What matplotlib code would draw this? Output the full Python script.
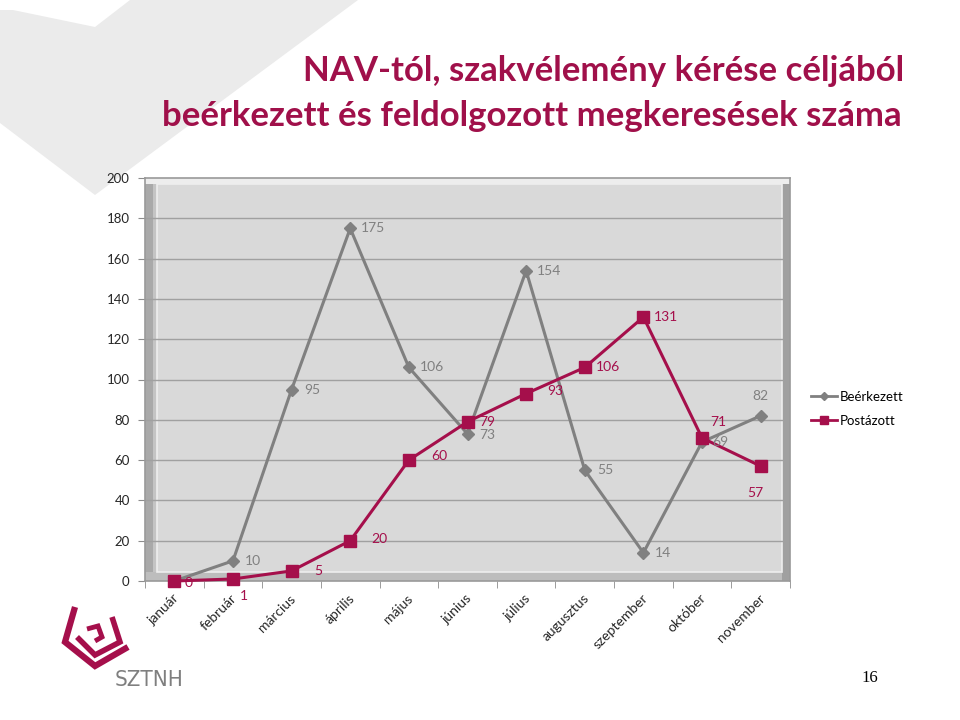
import matplotlib
matplotlib.use("Agg")
import matplotlib.pyplot as plt
from matplotlib.patches import Polygon, Rectangle
from matplotlib.lines import Line2D
import matplotlib.transforms as mtransforms

months = ["január", "február", "március", "április", "május", "június",
          "július", "augusztus", "szeptember", "október", "november"]
beerkezett = [0, 10, 95, 175, 106, 73, 154, 55, 14, 69, 82]
postazott = [0, 1, 5, 20, 60, 79, 93, 106, 131, 71, 57]
yticks = list(range(0, 201, 20))

title1 = "NAV-tól, szakvélemény kérése céljából"
title2 = "beérkezett és feldolgozott megkeresések száma"

GREY = "#808080"
RED = "#A50F4B"
TITLE_C = "#A0104A"
FONT = ["Lato", "DejaVu Sans"]

W, H = 960, 720
fig = plt.figure(figsize=(9.6, 7.2), dpi=100)
fig.patch.set_facecolor("white")

def fx(px):
    return px / W

def fy(py):
    return 1 - py / H

# background decoration (light grey chevron at top-left)
deco = [(0, 10), (13, 10), (95, 27), (130, 0), (358, 0), (95, 195), (0, 123)]
fig.patches.append(Polygon([(fx(x), fy(y)) for x, y in deco], closed=True,
                           transform=fig.transFigure, facecolor="#ebebeb",
                           edgecolor="none", zorder=-5))

# titles
fig.text(fx(904), fy(81), title1, ha="right", va="baseline", fontsize=25,
         fontweight="bold", color=TITLE_C, family=FONT)
fig.text(fx(902), fy(126), title2, ha="right", va="baseline", fontsize=25,
         fontweight="bold", color=TITLE_C, family=FONT)

# axes
ax = fig.add_axes([fx(145), fy(581), fx(790) - fx(145), (581 - 178) / H])
ax.set_facecolor("#d9d9d9")
x = list(range(len(months)))
ax.set_xlim(-0.5, len(months) - 0.5)
ax.set_ylim(0, 200)

# 3D-ish walls
ax.add_patch(Rectangle((0, 0), 0.012, 1, transform=ax.transAxes,
                       facecolor="#a9a9a9", edgecolor="none", zorder=0.5))
ax.add_patch(Rectangle((0.012, 0), 0.006, 1, transform=ax.transAxes,
                       facecolor="#c4c4c4", edgecolor="none", zorder=0.5))
ax.add_patch(Rectangle((0, 0), 1, 0.022, transform=ax.transAxes,
                       facecolor="#bdbdbd", edgecolor="none", zorder=0.5))
ax.add_patch(Rectangle((0.988, 0), 0.012, 1, transform=ax.transAxes,
                       facecolor="#a0a0a0", edgecolor="none", zorder=0.5))
ax.add_patch(Rectangle((0.018, 0.022), 0.97, 0.962, transform=ax.transAxes,
                       facecolor="none", edgecolor="#eeeeee", lw=1.2, zorder=0.6))
ax.add_patch(Rectangle((0, 0.985), 1, 0.015, transform=ax.transAxes,
                       facecolor="#ededed", edgecolor="none", zorder=0.5))

for yv in yticks[1:-1]:
    ax.axhline(yv, color="#a0a0a0", lw=1, zorder=1)

for s in ax.spines.values():
    s.set_color("#9a9a9a")
    s.set_linewidth(1.2)

ax.set_yticks(yticks)
ax.set_yticklabels([str(v) for v in yticks], family=FONT, fontsize=9.5,
                   color="#262626")
ax.tick_params(axis="y", length=5, color="#8c8c8c", pad=6)

ax.set_xticks(x)
ax.set_xticklabels(months, rotation=45, ha="right", rotation_mode="anchor",
                   family=FONT, fontsize=10, color="#262626")
ax.tick_params(axis="x", length=0, pad=8)
offset = mtransforms.ScaledTranslation(-2 / 100, 0, fig.dpi_scale_trans)
for lab in ax.get_xticklabels():
    lab.set_transform(lab.get_transform() + offset)
ax.set_xticks([i - 0.5 for i in range(len(months) + 1)], minor=True)
ax.tick_params(axis="x", which="minor", length=5, color="#8c8c8c")

ax.plot(x, beerkezett, color=GREY, lw=2.2, marker="D", ms=6.5,
        mfc=GREY, mec=GREY, zorder=3, clip_on=False)
ax.plot(x, postazott, color=RED, lw=2.2, marker="s", ms=8,
        mfc=RED, mec=RED, zorder=4, clip_on=False)

# data labels (pixel offsets)
b_off = [(0, 0), (20, 0), (21, 0), (23, 0), (23, 0), (20, -1), (23, 0),
         (21, 0), (20, 0), (18, 0), (0, 20)]
b_z = [3.5] + [5] * (len(beerkezett) - 1)
p_off = [(14, -2), (11, -17), (27, 0), (29, 2), (30, 4), (20, 0), (29, 3),
         (23, 0), (23, 0), (16, 16), (-5, -27)]
for i, v in enumerate(beerkezett):
    ax.annotate(str(v), (i, v), xytext=b_off[i], textcoords="offset pixels",
                ha="center", va="center", fontsize=10, color=GREY,
                family=FONT, zorder=b_z[i], annotation_clip=False)
for i, v in enumerate(postazott):
    ax.annotate(str(v), (i, v), xytext=p_off[i], textcoords="offset pixels",
                ha="center", va="center", fontsize=10, color=RED,
                family=FONT, zorder=6, annotation_clip=False)

# legend
handles = [Line2D([], [], color=GREY, lw=2, marker="D", ms=4.5),
           Line2D([], [], color=RED, lw=2, marker="s", ms=6)]
leg = fig.legend(handles, ["Beérkezett", "Postázott"], loc="upper left",
                 bbox_to_anchor=(fx(811), fy(391)), frameon=False,
                 prop={"family": FONT, "size": 9.5}, handlelength=2.0,
                 handletextpad=0.15, labelspacing=0.9, borderaxespad=0,
                 borderpad=0)

# logo
LOGO = "#A50F4B"
def pl(pts, lw):
    fig.lines.append(Line2D([fx(a) for a, b in pts], [fy(b) for a, b in pts],
                            transform=fig.transFigure, color=LOGO, lw=lw,
                            solid_joinstyle="miter", solid_capstyle="butt"))
pl([(75, 607), (65, 642), (95, 666), (128, 647)], 4.5)
pl([(77, 637), (95, 655), (120, 642), (112, 617)], 4)
pl([(87, 629), (98, 626), (102, 637), (95, 641)], 3.5)
fig.text(fx(115), fy(686), "SZTNH", ha="left", va="baseline", fontsize=16,
         color="#7f7f7f", family="DejaVu Sans", fontstretch="condensed")

fig.text(fx(870), fy(682), "16", ha="center", va="baseline", fontsize=12,
         color="black", family=["Liberation Serif", "DejaVu Serif"])

fig.savefig("out.png", dpi=100)
